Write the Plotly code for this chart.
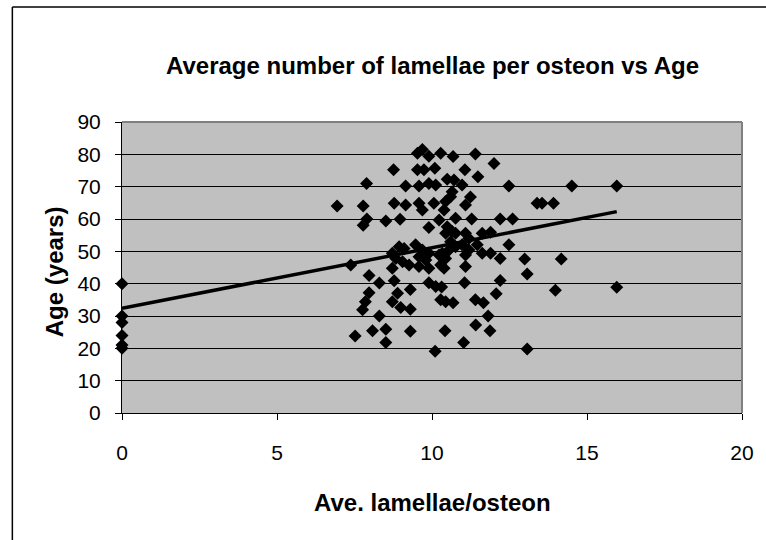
import numpy as np
import plotly.graph_objects as go

# Ave. lamellae per osteon (x) and Age in years (y)
lamellae = [
    0, 0, 0, 0, 0, 0,
    9.69, 9.53, 9.9, 10.28, 10.68, 11.4, 12.0,
    8.76, 9.53, 9.74, 10.09, 11.06, 11.48,
    7.89, 9.15, 9.58, 9.9, 10.12, 10.49, 10.71, 10.97, 10.65, 11.24, 12.48, 14.51, 15.96,
    6.94, 7.78, 8.78, 9.15, 9.58, 9.69, 10.06, 10.44, 10.6, 10.39, 11.08,
    13.39, 13.55, 13.92,
    7.9, 7.78, 8.51, 8.97, 9.9, 10.23, 10.76, 11.28, 12.2, 12.6,
    10.49, 10.65, 10.44, 10.76, 11.08, 11.62, 11.89, 11.19, 12.48,
    10.6, 10.76, 10.97, 11.19, 11.46, 11.62, 11.89, 12.2, 11.08,
    9.1, 9.47, 9.69, 9.9, 8.83, 9.05, 9.26, 9.58, 9.8,
    10.23, 10.44, 10.28, 10.39, 8.72, 9.58, 9.9, 11.08,
    10.33, 10.55, 8.72, 8.94,
    7.38, 12.99, 14.17,
    7.97, 8.3, 8.78, 9.3, 7.97, 7.85, 7.76, 8.89, 8.72, 8.99, 9.3, 8.3,
    7.52, 8.08, 8.51, 8.51, 9.3, 10.1, 10.42, 11.02, 11.41, 11.81, 11.87,
    9.9, 10.12, 10.31, 10.28, 10.44, 10.68, 11.05, 11.4, 11.66,
    12.07, 12.2, 13.07, 13.98, 15.96, 13.07,
]
age = [
    40, 30, 28, 24, 21, 20,
    81.5, 80.3, 79.4, 80.3, 79.3, 80.1, 77.2,
    75.2, 75.2, 75.2, 75.7, 75.2, 73.1,
    71, 70.2, 70.2, 71, 70.5, 72.3, 72.1, 70.5, 68.4, 66.8, 70.2, 70.2, 70.2,
    64.0, 64.0, 64.9, 64.3, 64.9, 62.8, 64.9, 65.4, 66.9, 62.8, 64.3,
    64.9, 64.9, 64.9,
    60.0, 58.1, 59.4, 59.9, 57.4, 59.7, 60.2, 60.0, 60.0, 60.0,
    57.6, 56.1, 55.6, 55.6, 55.6, 55.6, 55.9, 54.0, 52.0,
    53.0, 51.4, 52.0, 50.4, 52.0, 49.4, 49.4, 47.8, 48.9,
    50.9, 52.0, 50.4, 49.4, 47.8, 46.8, 45.8, 48.3, 47.3,
    48.9, 47.8, 45.8, 44.8, 44.8, 45.3, 44.8, 45.3,
    49.4, 50.4, 49.4, 51.4,
    45.8, 47.6, 47.6,
    42.5, 40.2, 40.9, 38.2, 37.2, 34.4, 31.9, 37.0, 34.4, 32.6, 32.1, 30.0,
    23.8, 25.4, 25.9, 21.8, 25.3, 19.1, 25.4, 21.8, 27.2, 30.0, 25.4,
    40.3, 39.1, 39.0, 35.0, 34.4, 34.1, 40.3, 35.0, 34.1,
    36.9, 41.0, 43.0, 38.0, 38.9, 19.8,
]

x_ticks = [0, 5, 10, 15, 20]
y_ticks = [0, 10, 20, 30, 40, 50, 60, 70, 80, 90]

title_text = "Average number of lamellae per osteon vs Age"
x_title = "Ave. lamellae/osteon"
y_title = "Age (years)"

x_arr = np.array(lamellae, dtype=float)
y_arr = np.array(age, dtype=float)
slope, intercept = np.polyfit(x_arr, y_arr, 1)
trend_x = np.array([x_arr.min(), x_arr.max()])
trend_y = slope * trend_x + intercept

W, H = 766, 540
L, R, T, B = 122, 744, 122, 413
FONT = "Arial, Liberation Sans, sans-serif"

def px_x(p):
    return (p - L) / (R - L)

def px_y(p):
    return (B - p) / (B - T)

fig = go.Figure()
fig.add_trace(go.Scatter(
    x=lamellae, y=age, mode="markers",
    marker=dict(symbol="diamond", size=10, color="#000000", line=dict(width=0)),
    showlegend=False, cliponaxis=False,
))
fig.add_trace(go.Scatter(
    x=trend_x, y=trend_y, mode="lines",
    line=dict(color="#000000", width=3.5),
    showlegend=False,
))

shapes = [
    # plot area border (top and right)
    dict(type="line", xref="paper", yref="paper", x0=0, x1=1, y0=1, y1=1,
         line=dict(color="#808080", width=2), layer="above"),
    dict(type="line", xref="paper", yref="paper", x0=1, x1=1, y0=0, y1=1,
         line=dict(color="#808080", width=2), layer="above"),
    # chart area border (left and top)
    dict(type="line", xref="paper", yref="paper", x0=px_x(12), x1=px_x(12),
         y0=px_y(7), y1=px_y(560), line=dict(color="#000000", width=1.5)),
    dict(type="line", xref="paper", yref="paper", x0=px_x(12), x1=px_x(790),
         y0=px_y(7), y1=px_y(7), line=dict(color="#000000", width=1.5)),
]

annotations = [
    dict(text=f"<b>{title_text}</b>", xref="paper", yref="paper",
         x=0.5, y=px_y(65.5), xanchor="center", yanchor="middle", showarrow=False,
         font=dict(family=FONT, size=24, color="#000000")),
    dict(text=f"<b>{x_title}</b>", xref="paper", yref="paper",
         x=0.5, y=px_y(502), xanchor="center", yanchor="middle", showarrow=False,
         font=dict(family=FONT, size=24, color="#000000")),
    dict(text=f"<b>{y_title}</b>", xref="paper", yref="paper",
         x=px_x(54), y=px_y(272), xanchor="center", yanchor="middle", showarrow=False,
         textangle=-90, font=dict(family=FONT, size=24, color="#000000")),
]

fig.update_layout(
    width=W, height=H,
    margin=dict(l=L, r=W - R, t=T, b=H - B, pad=0),
    paper_bgcolor="#FFFFFF",
    plot_bgcolor="#C0C0C0",
    shapes=shapes,
    annotations=annotations,
    font=dict(family=FONT, color="#000000"),
    xaxis=dict(
        range=[0, 20], tickvals=x_ticks, ticktext=[str(v) for v in x_ticks],
        showgrid=False, zeroline=False, showline=True, linecolor="#000000", linewidth=1,
        ticks="outside", ticklen=6, tickcolor="#000000", tickwidth=1,
        tickfont=dict(family=FONT, size=21, color="#000000"),
        ticklabelstandoff=15, fixedrange=True,
    ),
    yaxis=dict(
        range=[0, 90], tickvals=y_ticks, ticktext=[str(v) for v in y_ticks],
        showgrid=True, gridcolor="#000000", gridwidth=1, zeroline=False,
        showline=True, linecolor="#000000", linewidth=1,
        ticks="outside", ticklen=6, tickcolor="#000000", tickwidth=1,
        tickfont=dict(family=FONT, size=21, color="#000000"),
        ticklabelstandoff=10, fixedrange=True,
    ),
)

fig.write_html("out.html")
